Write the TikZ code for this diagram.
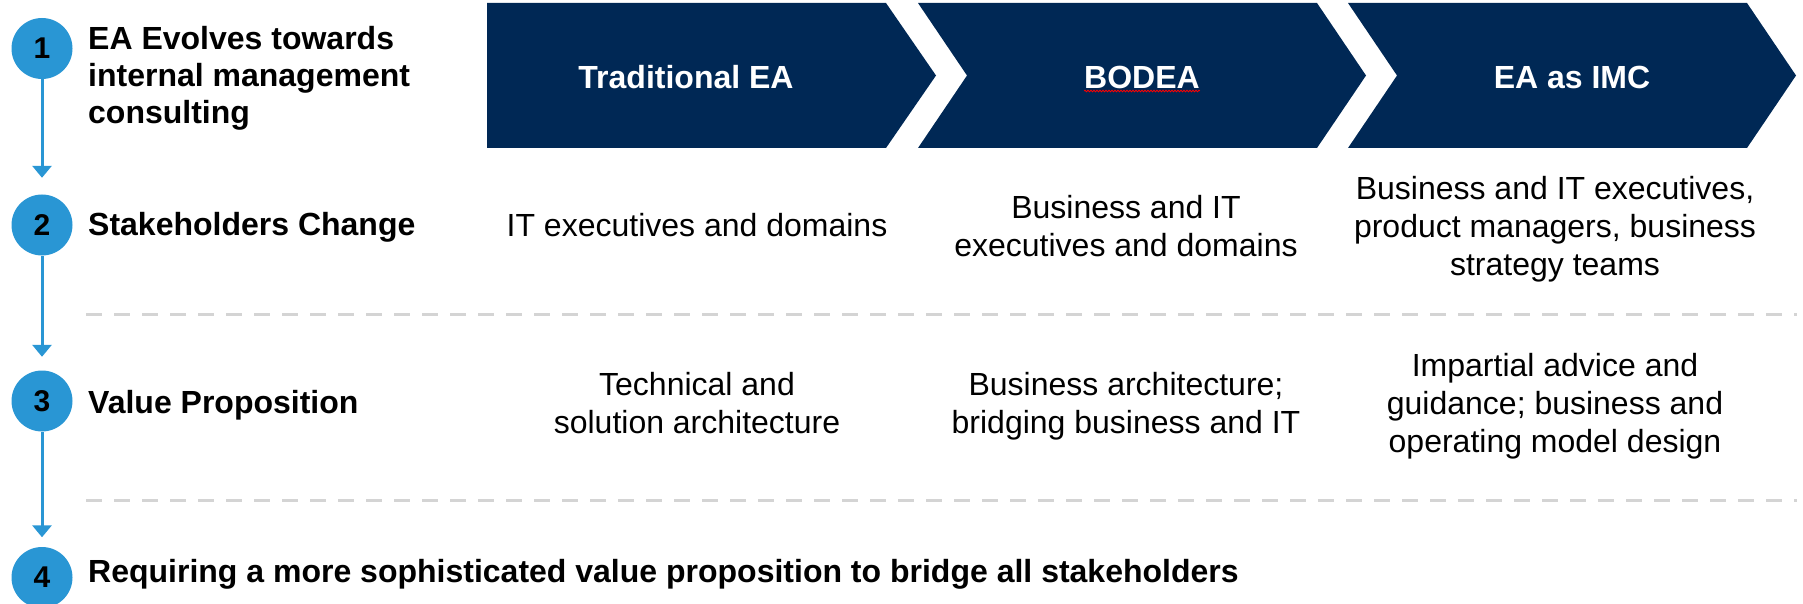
\documentclass[tikz,border=0pt]{standalone}
\usepackage{fontspec}
\setmainfont{Liberation Sans}
\usetikzlibrary{arrows.meta,decorations.pathmorphing}
\definecolor{navy}{RGB}{0,40,85}
\definecolor{stepblue}{RGB}{41,150,212}
\definecolor{rulegray}{RGB}{212,212,212}
\tikzset{
  num/.style={circle,fill=stepblue,minimum size=61pt,inner sep=0pt,font=\bfseries\fontsize{30}{30}\selectfont},
  lbl/.style={anchor=west,align=left,inner sep=0pt,font=\bfseries\fontsize{32}{37}\selectfont},
  cell/.style={align=center,inner sep=0pt,font=\fontsize{32}{38}\selectfont},
  phase/.style={text=white,inner sep=0pt,font=\bfseries\fontsize{32}{32}\selectfont},
  flow/.style={stepblue,line width=3pt,-{Triangle[width=19pt,length=12pt]}},
  sep/.style={rulegray,line width=3pt,dash pattern=on 16pt off 12pt},
}

\begin{document}
\begin{tikzpicture}[x=1pt,y=-1pt]
\useasboundingbox (0,0) rectangle (1803,604);
% phases
\fill[navy] (487,3) -- (886,3) -- (936,75.5) -- (886,148) -- (487,148) -- cycle;
\fill[navy] (918,3) -- (1317,3) -- (1366,75.5) -- (1317,148) -- (918,148) -- (967,75.5) -- cycle;
\fill[navy] (1348,3) -- (1747,3) -- (1796,75.5) -- (1747,148) -- (1348,148) -- (1397,75.5) -- cycle;
\node[phase] (trad) at (686,77) {Traditional EA};
\node[phase] (bodea) at (1142,77) {BODEA};
\node[phase] (imc) at (1572,77) {EA as IMC};
\draw[red,line width=0.8pt,decorate,decoration={snake,amplitude=0.8pt,segment length=3pt}]
  ([yshift=-2.5pt]bodea.south west) -- ([yshift=-2.5pt]bodea.south east);

% steps
\node[num] (n1) at (42,48.5) {1};
\node[num] (n2) at (42,225) {2};
\node[num] (n3) at (42,401) {3};
\node[num] (n4) at (42,577.5) {4};
\draw[flow,shorten >=16.5pt] (n1) -- (n2);
\draw[flow,shorten >=13.5pt] (n2) -- (n3);
\draw[flow,shorten >=9.5pt] (n3) -- (n4);

\node[lbl] (l1) at (88,78) {EA Evolves towards\\internal management\\consulting};
\node[lbl] (l2) at (88,227) {Stakeholders Change};
\node[lbl] (l3) at (88,405) {Value Proposition};
\node[lbl] (l4) at (88,574) {Requiring a more sophisticated value proposition to bridge all stakeholders};

% rows
\node[cell] (s1) at (697,225) {IT executives and domains};
\node[cell] (s2) at (1126,226.5) {Business and IT\\executives and domains};
\node[cell] (s3) at (1555,229) {Business and IT executives,\\product managers, business\\strategy teams};
\node[cell] (v1) at (697,403) {Technical and\\solution architecture};
\node[cell] (v2) at (1126,406.5) {Business architecture;\\bridging business and IT};
\node[cell] (v3) at (1555,406.5) {Impartial advice and\\guidance; business and\\operating model design};

\draw[sep] (86,314) -- (1797,314);
\draw[sep] (86,500) -- (1797,500);
\end{tikzpicture}
\end{document}
